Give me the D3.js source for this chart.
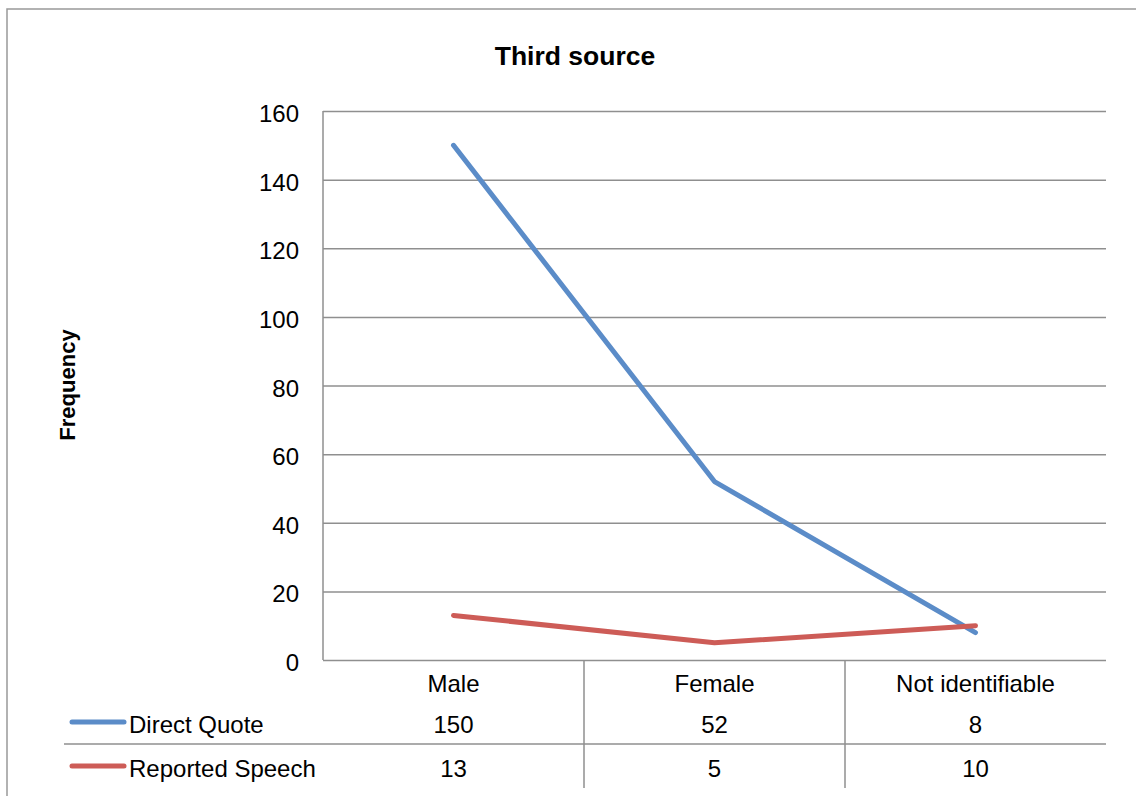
<!DOCTYPE html>
<html>
<head>
<meta charset="utf-8">
<script src="https://cdn.jsdelivr.net/npm/d3@7"></script>
<style>
  html, body { margin: 0; padding: 0; background: #fff; }
  svg { display: block; }
  text { font-family: "Liberation Sans", Arial, sans-serif; fill: #000; }
</style>
</head>
<body>
<svg id="chart" width="1136" height="796"></svg>
<script>
// Chart data
const title = "Third source";
const yTitle = "Frequency";
const categories = ["Male", "Female", "Not identifiable"];
const seriesNames = ["Direct Quote", "Reported Speech"];
const directQuote = [150, 52, 8];
const reportedSpeech = [13, 5, 10];
const yTicks = [0, 20, 40, 60, 80, 100, 120, 140, 160];
const seriesColors = ["#5b8cc8", "#cd5c57"];

const series = [
  { name: seriesNames[0], values: directQuote, color: seriesColors[0] },
  { name: seriesNames[1], values: reportedSpeech, color: seriesColors[1] }
];

const FONT = "'Liberation Sans', Arial, sans-serif";
const svg = d3.select("#chart");
const plot = { left: 323, right: 1106, top: 111, bottom: 660 };
const gridColor = "#8f8f8f";

// Outer chart frame
svg.append("path")
  .attr("d", "M7,800 L7,9 L1140,9")
  .attr("fill", "none")
  .attr("stroke", "#999")
  .attr("stroke-width", 1.5);

const x = d3.scaleBand().domain(categories).range([plot.left, plot.right]);
const y = d3.scaleLinear().domain([0, 160]).range([plot.bottom, plot.top]);

// Title
svg.append("text")
  .attr("x", 575).attr("y", 65)
  .attr("text-anchor", "middle")
  .attr("font-size", 26.5).attr("font-weight", "bold")
  .text(title);

// Y axis title
svg.append("text")
  .attr("transform", `translate(75,385) rotate(-90)`)
  .attr("text-anchor", "middle")
  .attr("font-size", 22).attr("font-weight", "bold")
  .text(yTitle);

// Horizontal gridlines and tick labels
const yAxis = d3.axisLeft(y).tickValues(yTicks).tickSize(-(plot.right - plot.left)).tickPadding(24);
const gy = svg.append("g").attr("transform", `translate(${plot.left},0)`).call(yAxis);
gy.attr("font-family", FONT).attr("font-size", 24);
gy.select(".domain").remove();
gy.selectAll(".tick line").attr("stroke", gridColor).attr("stroke-width", 1.5);
gy.selectAll(".tick text")
  .attr("fill", "#000")
  .attr("dy", 10.5);

// Left axis line
svg.append("line")
  .attr("x1", plot.left).attr("x2", plot.left)
  .attr("y1", plot.top).attr("y2", plot.bottom)
  .attr("stroke", gridColor).attr("stroke-width", 1.5);

// Data table grid
const tableBottom = 788;
const rowLine = 744;
svg.append("line")
  .attr("x1", 64).attr("x2", plot.right)
  .attr("y1", rowLine).attr("y2", rowLine)
  .attr("stroke", gridColor).attr("stroke-width", 1.5);
categories.slice(1).forEach(c => {
  svg.append("line")
    .attr("x1", x(c)).attr("x2", x(c))
    .attr("y1", plot.bottom).attr("y2", tableBottom)
    .attr("stroke", gridColor).attr("stroke-width", 1.5);
});

// Category labels
svg.append("g").selectAll("text")
  .data(categories).join("text")
  .attr("x", d => x(d) + x.bandwidth() / 2)
  .attr("y", 692)
  .attr("text-anchor", "middle")
  .attr("font-size", 24)
  .text(d => d);

// Series lines
const line = d3.line()
  .x((d, i) => x(categories[i]) + x.bandwidth() / 2)
  .y(d => y(d));

svg.append("g").selectAll("path")
  .data(series).join("path")
  .attr("d", d => line(d.values))
  .attr("fill", "none")
  .attr("stroke", d => d.color)
  .attr("stroke-width", 5)
  .attr("stroke-linecap", "round")
  .attr("stroke-linejoin", "round");

// Data table rows: legend key, series name, values
const rowBaselines = [733, 777];
const rows = svg.append("g").selectAll("g")
  .data(series).join("g");

rows.append("line")
  .attr("x1", 72).attr("x2", 124)
  .attr("y1", (d, i) => rowBaselines[i] - 11)
  .attr("y2", (d, i) => rowBaselines[i] - 11)
  .attr("stroke", d => d.color)
  .attr("stroke-width", 5)
  .attr("stroke-linecap", "round");

rows.append("text")
  .attr("x", 129)
  .attr("y", (d, i) => rowBaselines[i])
  .attr("font-size", 24)
  .text(d => d.name);

rows.each(function(d, i) {
  d3.select(this).selectAll("text.val")
    .data(d.values).join("text")
    .attr("class", "val")
    .attr("x", (v, j) => x(categories[j]) + x.bandwidth() / 2)
    .attr("y", rowBaselines[i])
    .attr("text-anchor", "middle")
    .attr("font-size", 24)
    .text(v => v);
});
</script>
</body>
</html>
